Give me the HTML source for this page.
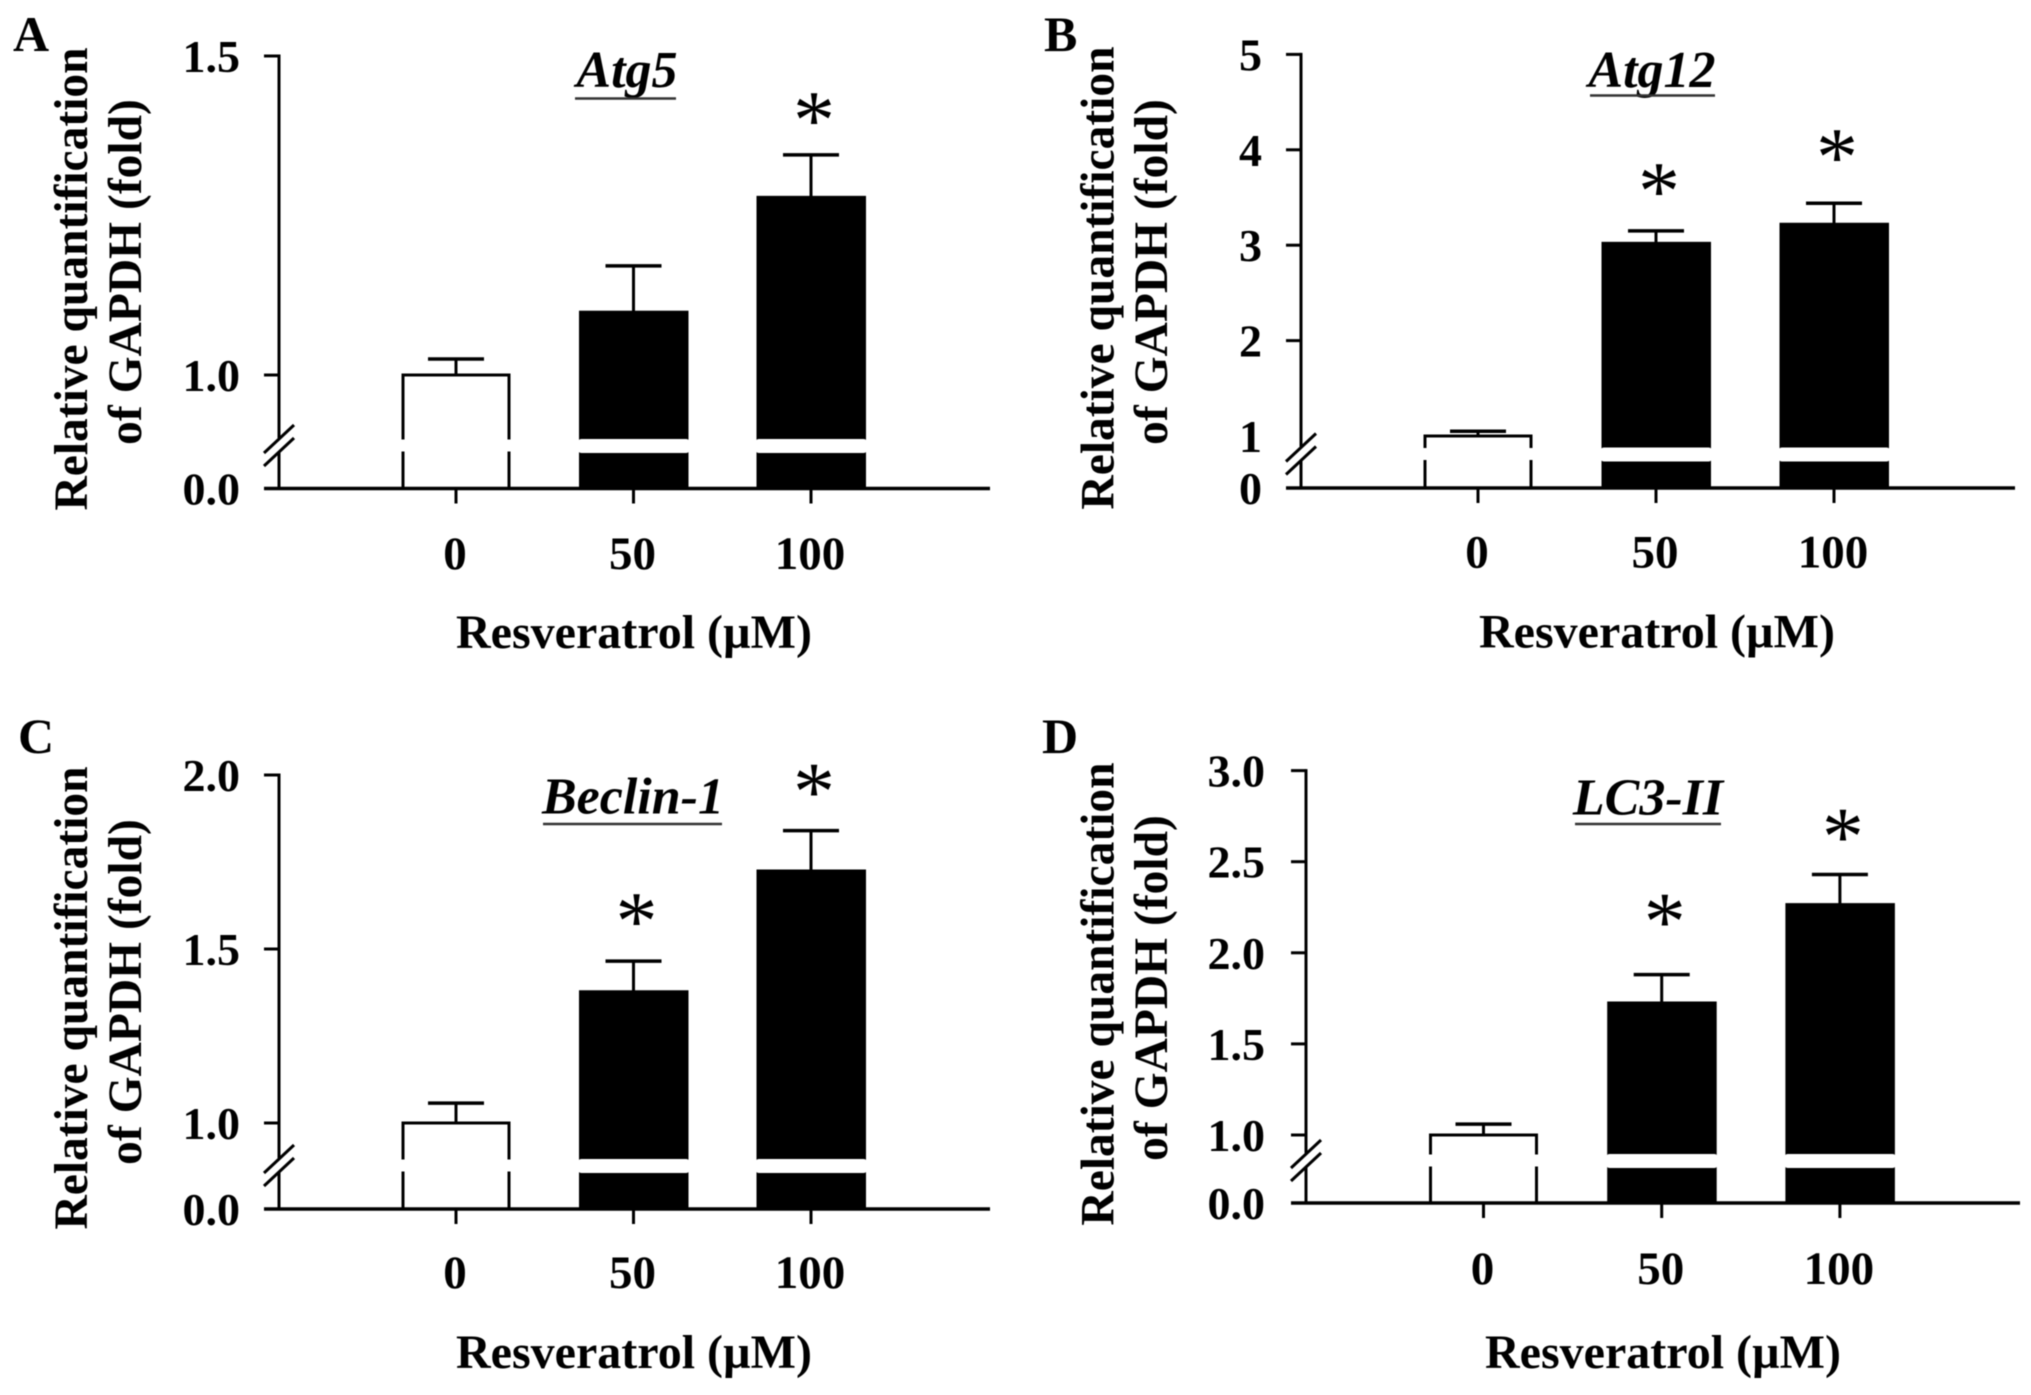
<!DOCTYPE html>
<html lang="en">
<head>
<meta charset="utf-8">
<title>Relative quantification of autophagy genes after resveratrol treatment</title>
<style>
html,body{margin:0;padding:0;background:#fff;}
#figure{display:block;width:2031px;height:1395px;filter:blur(0.6px);}
text{font-family:"Liberation Serif",serif;fill:#000;font-weight:bold;}
text.plain{font-weight:normal;}
</style>
</head>
<body>
<svg id="figure" xmlns="http://www.w3.org/2000/svg" width="2031" height="1395" viewBox="0 0 2031 1395"></svg>
<script>
const doseLabels = ['0', '50', '100'];
const xAxisTitle = 'Resveratrol (µM)';
const yTitleLineOne = 'Relative quantification';
const yTitleLineTwo = 'of GAPDH (fold)';

const atg5Means = [1.0, 1.10, 1.28];
const atg5Errors = [0.025, 0.071, 0.065];
const atg5Ticks = [1.0, 1.5];
const atg5TickLabels = ['1.0', '1.5'];
const atg5Stars = [false, false, true];

const atg12Means = [1.0, 3.03, 3.23];
const atg12Errors = [0.05, 0.12, 0.21];
const atg12Ticks = [1, 2, 3, 4, 5];
const atg12TickLabels = ['1', '2', '3', '4', '5'];
const atg12Stars = [false, true, true];

const beclinMeans = [1.0, 1.38, 1.727];
const beclinErrors = [0.057, 0.085, 0.113];
const beclinTicks = [1.0, 1.5, 2.0];
const beclinTickLabels = ['1.0', '1.5', '2.0'];
const beclinStars = [false, true, true];

const lc3Means = [1.0, 1.73, 2.27];
const lc3Errors = [0.06, 0.15, 0.16];
const lc3Ticks = [1.0, 1.5, 2.0, 2.5, 3.0];
const lc3TickLabels = ['1.0', '1.5', '2.0', '2.5', '3.0'];
const lc3Stars = [false, true, true];

const SVG_NS = 'http://www.w3.org/2000/svg';
const root = document.getElementById('figure');

function makeGroup(parent, name) {
  const el = document.createElementNS(SVG_NS, 'g');
  
  
  parent.appendChild(el);
  return el;
}
function addLine(parent, name, x1, y1, x2, y2, width, color) {
  const el = document.createElementNS(SVG_NS, 'line');
  
  
  el.setAttribute('x1', x1);
  el.setAttribute('y1', y1);
  el.setAttribute('x2', x2);
  el.setAttribute('y2', y2);
  el.setAttribute('stroke', color || '#000');
  el.setAttribute('stroke-width', width || 3);
  parent.appendChild(el);
  return el;
}
function addRect(parent, name, x, y, w, h, fill, rx) {
  const el = document.createElementNS(SVG_NS, 'rect');
  
  
  el.setAttribute('x', x);
  el.setAttribute('y', y);
  el.setAttribute('width', Math.max(0, w));
  el.setAttribute('height', Math.max(0, h));
  el.setAttribute('fill', fill);
  if (rx) el.setAttribute('rx', rx);
  parent.appendChild(el);
  return el;
}
function addText(parent, name, str, x, y, size, anchor, opts) {
  const el = document.createElementNS(SVG_NS, 'text');
  
  
  el.setAttribute('x', x);
  el.setAttribute('y', y);
  el.setAttribute('font-size', size);
  el.setAttribute('text-anchor', anchor || 'middle');
  if (opts && opts.italic) el.setAttribute('font-style', 'italic');
  if (opts && opts.regular) el.setAttribute('class', 'plain');
  if (opts && opts.rotate) el.setAttribute('transform', 'rotate(-90 ' + x + ' ' + y + ')');
  el.textContent = str;
  parent.appendChild(el);
  return el;
}

function drawPanel(p) {
  const g = makeGroup(root, 'panel-' + p.letter.toLowerCase());
  const yScale = function (v) {
    if (v <= 0) return p.baseY;
    return p.anchorY - (v - p.anchorValue) * p.pxPerUnit;
  };
  const xScale = function (i) { return p.x0 + i * p.step; };

  addText(g, 'panel-letter-' + p.letter.toLowerCase(), p.letter, p.letterX, p.letterY, 50, 'start');

  const yTitle = makeGroup(g, 'y-axis-title');
  addText(yTitle, 'y-axis-title-line-1', yTitleLineOne, p.titleX1, p.titleY1, 47.5, 'middle', {rotate: true});
  addText(yTitle, 'y-axis-title-line-2', yTitleLineTwo, p.titleX2, p.titleY2, 47.5, 'middle', {rotate: true});

  const bars = makeGroup(g, 'bars');
  p.means.forEach(function (m, i) {
    const cx = xScale(i);
    const top = yScale(m);
    const errTop = yScale(m + p.errors[i]);
    const hw = p.halfBar;
    const bar = makeGroup(bars, 'bar-dose-' + doseLabels[i]);
    addLine(bar, 'error-stem', cx, top, cx, errTop, 3);
    addLine(bar, 'error-cap', cx - 28, errTop, cx + 28, errTop, 3.5);
    if (i === 0) {
      addLine(bar, 'bar-top', cx - hw - 1.5, top, cx + hw + 1.5, top, 3);
      addLine(bar, 'bar-left-upper', cx - hw, top, cx - hw, p.breakY - 6.5, 3);
      addLine(bar, 'bar-left-lower', cx - hw, p.breakY + 5.5, cx - hw, p.baseY, 3);
      addLine(bar, 'bar-right-upper', cx + hw, top, cx + hw, p.breakY - 6.5, 3);
      addLine(bar, 'bar-right-lower', cx + hw, p.breakY + 5.5, cx + hw, p.baseY, 3);
    } else {
      addRect(bar, 'bar-fill', cx - hw - 1.5, top - 0.5, 2 * hw + 3.5, p.baseY - top + 0.5, '#000');
      addRect(bar, 'axis-break-band', cx - hw - 3, p.breakY - 7, 2 * hw + 6.5, 14, '#fff', 4);
    }
    if (p.stars[i]) {
      addText(bar, 'significance-star', '*', cx + 3, errTop - p.starGaps[i] + 38, 84, 'middle', {regular: true});
    }
  });

  const yAxis = makeGroup(g, 'y-axis');
  const axisTop = yScale(p.ticks[p.ticks.length - 1]);
  addLine(yAxis, 'y-axis-line-upper', p.axisX, axisTop - 1.5, p.axisX, p.breakY - 8, 3);
  addLine(yAxis, 'y-axis-line-lower', p.axisX, p.breakY + 6, p.axisX, p.baseY, 3);
  addLine(yAxis, 'axis-break-slash-upper', p.axisX - 15, p.breakY + 7, p.axisX + 15, p.breakY - 21, 3);
  addLine(yAxis, 'axis-break-slash-lower', p.axisX - 15, p.breakY + 20, p.axisX + 15, p.breakY - 8, 3);
  p.ticks.forEach(function (t, i) {
    const y = yScale(t);
    if (!p.hideFirstTick || i > 0) addLine(yAxis, 'y-tick', p.axisX - 15, y, p.axisX, y, 3);
    addText(yAxis, 'y-tick-label', p.tickLabels[i], p.labelRight, y + 16, 46, 'end');
  });
  addText(yAxis, 'y-tick-label-zero', p.zeroLabel, p.labelRight, p.baseY + 16, 46, 'end');

  const xAxis = makeGroup(g, 'x-axis');
  addLine(xAxis, 'x-axis-line', p.axisX - 15, p.baseY, p.axisEnd, p.baseY, 3.5);
  doseLabels.forEach(function (d, i) {
    const cx = xScale(i);
    addLine(xAxis, 'x-tick', cx, p.baseY, cx, p.baseY + 15, 3);
    addText(xAxis, 'x-tick-label', d, cx - 1, p.xLabelY, 47, 'middle');
  });
  addText(xAxis, 'x-axis-title', xAxisTitle, p.xTitleX, p.xTitleY, 48, 'middle');

  const title = makeGroup(g, 'gene-title');
  addText(title, 'gene-title-text', p.gene, p.geneX, p.geneY, 52, 'middle', {italic: true});
  addLine(title, 'gene-title-underline', p.underline1, p.underlineY, p.underline2, p.underlineY, 2.5, '#333');
}

drawPanel({letter: 'A', gene: 'Atg5', means: atg5Means, errors: atg5Errors, ticks: atg5Ticks, tickLabels: atg5TickLabels, stars: atg5Stars,
  starGaps: [0, 0, 45], zeroLabel: '0.0', anchorValue: 1.0, anchorY: 375, pxPerUnit: 638, baseY: 488.5, breakY: 446,
  axisX: 279, axisEnd: 990, x0: 456, step: 177.5, halfBar: 53, labelRight: 240, xLabelY: 569, xTitleX: 634, xTitleY: 648,
  letterX: 13, letterY: 51, titleX1: 87, titleY1: 279, titleX2: 141, titleY2: 272,
  geneX: 627, geneY: 87, underline1: 575, underline2: 676, underlineY: 98.5});

drawPanel({letter: 'B', gene: 'Atg12', means: atg12Means, errors: atg12Errors, ticks: atg12Ticks, tickLabels: atg12TickLabels, stars: atg12Stars,
  starGaps: [0, 50, 56], zeroLabel: '0', hideFirstTick: true, anchorValue: 1, anchorY: 436, pxPerUnit: 95.4, baseY: 488, breakY: 454.5,
  axisX: 1301, axisEnd: 2015, x0: 1478, step: 178, halfBar: 53, labelRight: 1262, xLabelY: 567.5, xTitleX: 1657, xTitleY: 647.5,
  letterX: 1044, letterY: 51, titleX1: 1113.5, titleY1: 278, titleX2: 1167, titleY2: 272,
  geneX: 1652, geneY: 87, underline1: 1590, underline2: 1715, underlineY: 95.5});

drawPanel({letter: 'C', gene: 'Beclin-1', means: beclinMeans, errors: beclinErrors, ticks: beclinTicks, tickLabels: beclinTickLabels, stars: beclinStars,
  starGaps: [0, 50, 49], zeroLabel: '0.0', anchorValue: 1.0, anchorY: 1123, pxPerUnit: 348, baseY: 1209, breakY: 1166,
  axisX: 279, axisEnd: 990, x0: 456, step: 177.5, halfBar: 53, labelRight: 240, xLabelY: 1288, xTitleX: 634, xTitleY: 1368,
  letterX: 18, letterY: 753, titleX1: 87, titleY1: 998, titleX2: 141, titleY2: 992,
  geneX: 633, geneY: 813.5, underline1: 543, underline2: 722, underlineY: 824});

drawPanel({letter: 'D', gene: 'LC3-II', means: lc3Means, errors: lc3Errors, ticks: lc3Ticks, tickLabels: lc3TickLabels, stars: lc3Stars,
  starGaps: [0, 63, 48], zeroLabel: '0.0', anchorValue: 1.0, anchorY: 1135, pxPerUnit: 182.2, baseY: 1203, breakY: 1161,
  axisX: 1306, axisEnd: 2020, x0: 1483.5, step: 178.2, halfBar: 53, labelRight: 1265, xLabelY: 1284, xTitleX: 1663, xTitleY: 1368,
  letterX: 1042, letterY: 753, titleX1: 1113.5, titleY1: 994, titleX2: 1167, titleY2: 988,
  geneX: 1648, geneY: 814.5, underline1: 1575, underline2: 1721, underlineY: 824});
</script>
</body>
</html>
